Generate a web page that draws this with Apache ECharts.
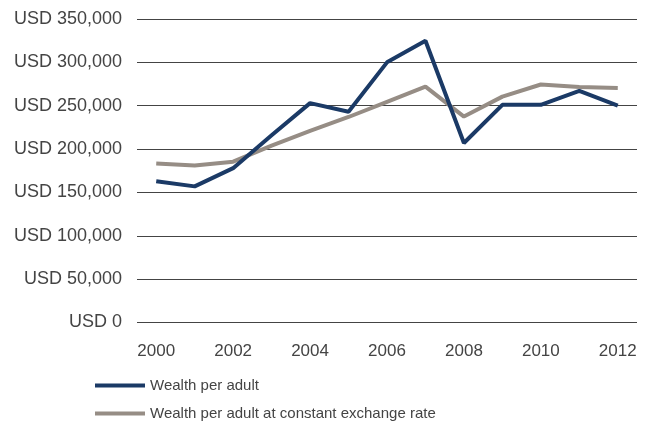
<!DOCTYPE html>
<html>
<head>
<meta charset="utf-8">
<script src="https://cdn.jsdelivr.net/npm/echarts@6/dist/echarts.min.js"></script>
<style>
  html, body { margin: 0; padding: 0; background: #ffffff; }
  #chart { width: 651px; height: 425px; }
</style>
</head>
<body>
<div id="chart"></div>
<script>
// Years on the horizontal axis
const years = ['2000','2001','2002','2003','2004','2005','2006','2007','2008','2009','2010','2011','2012'];

// Wealth per adult, USD
const wealthPerAdult = [163000, 157000, 178000, 216000, 253000, 243000, 300000, 325000, 207000, 251000, 251000, 267000, 250000];

// Wealth per adult at constant exchange rate, USD
const wealthConstantFx = [183500, 181000, 185500, 204000, 221000, 237000, 254500, 272000, 237500, 260500, 274500, 271500, 270500];

const seriesNames = ['Wealth per adult', 'Wealth per adult at constant exchange rate'];

const chart = echarts.init(document.getElementById('chart'));

function usd(v) {
  return 'USD ' + v.toLocaleString('en-US');
}

chart.setOption({
  animation: false,
  backgroundColor: '#ffffff',
  textStyle: { fontFamily: 'Liberation Sans, Arial, sans-serif' },
  grid: { left: 137, right: 14, top: 19, bottom: 102.5, containLabel: false },
  legend: {
    orient: 'vertical',
    left: 95,
    top: 378,
    padding: 0,
    itemWidth: 50,
    itemHeight: 4,
    itemGap: 13,
    icon: 'rect',
    textStyle: { fontSize: 15, color: '#444444', fontFamily: 'Liberation Sans, Arial, sans-serif' },
    data: seriesNames
  },
  xAxis: {
    type: 'category',
    data: years,
    boundaryGap: true,
    axisLine: { show: false },
    axisTick: { show: false },
    axisLabel: {
      interval: 1,
      margin: 20,
      fontSize: 17,
      color: '#444444'
    }
  },
  yAxis: {
    type: 'value',
    min: 0,
    max: 350000,
    interval: 50000,
    axisLine: { show: false },
    axisTick: { show: false },
    axisLabel: {
      margin: 15,
      fontSize: 18,
      color: '#444444',
      formatter: usd
    },
    splitLine: { lineStyle: { color: '#444444', width: 1 } }
  },
  series: [
    {
      name: seriesNames[0],
      type: 'line',
      data: wealthPerAdult,
      symbol: 'none',
      smooth: false,
      color: '#1b3a66',
      lineStyle: { width: 4, color: '#1b3a66' },
      z: 3
    },
    {
      name: seriesNames[1],
      type: 'line',
      data: wealthConstantFx,
      symbol: 'none',
      smooth: false,
      color: '#968d85',
      lineStyle: { width: 4, color: '#968d85' },
      z: 2
    }
  ]
});
</script>
</body>
</html>
